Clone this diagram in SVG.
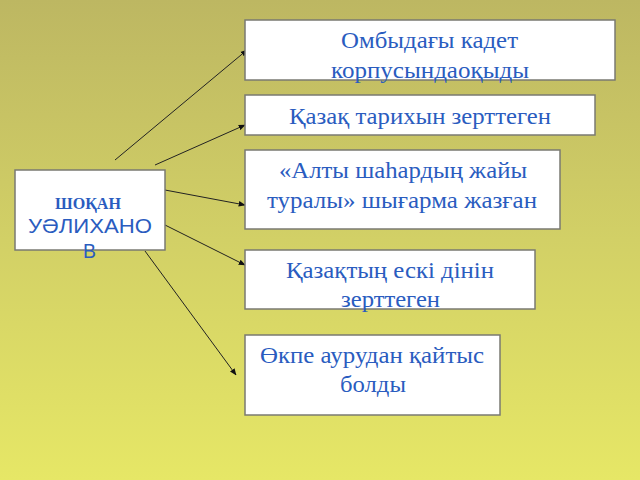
<svg xmlns="http://www.w3.org/2000/svg" width="640" height="480" viewBox="0 0 640 480">
<defs>
<linearGradient id="bg" x1="0" y1="0" x2="0" y2="1">
<stop offset="0" stop-color="#bdb762"/>
<stop offset="0.5" stop-color="#d2d066"/>
<stop offset="1" stop-color="#e6e766"/>
</linearGradient>
<marker id="ah" viewBox="0 0 10 10" refX="9" refY="5" markerWidth="7" markerHeight="7" markerUnits="userSpaceOnUse" orient="auto">
<path d="M0,1 L10,5 L0,9 z" fill="#111"/>
</marker>
<style>
.box{fill:#ffffff;stroke:#7a7a72;stroke-width:1.5}
.t{font-family:"Liberation Serif","Times New Roman",serif;font-size:23px;fill:#2a5cbf;text-anchor:start}
.hs{font-family:"Liberation Serif","Times New Roman",serif;font-size:17px;font-weight:bold;fill:#2a5cbf}
.hn{font-family:"Liberation Sans",Arial,sans-serif;font-size:21px;fill:#2a5cbf}
.c{stroke:#222;stroke-width:1;fill:none;marker-end:url(#ah)}
</style>
</defs>
<rect x="0" y="0" width="640" height="480" fill="url(#bg)"/>
<g id="connectors">
<line class="c" x1="115" y1="160" x2="247" y2="50"/>
<line class="c" x1="155" y1="165" x2="245" y2="125"/>
<line class="c" x1="165" y1="190" x2="245" y2="205"/>
<line class="c" x1="165" y1="225" x2="245" y2="265"/>
<line class="c" x1="145" y1="251" x2="236" y2="375"/>
</g>
<g id="node-shoqan">
<rect class="box" x="15" y="170" width="150" height="80"/>
<text class="hs" x="55" y="209" textLength="66" lengthAdjust="spacingAndGlyphs">ШОҚАН</text>
<text class="hn" x="28" y="233" textLength="124" lengthAdjust="spacingAndGlyphs">УӘЛИХАНО</text>
<text class="hn" x="83" y="258" textLength="13" lengthAdjust="spacingAndGlyphs">В</text>
</g>
<g id="node-1">
<rect class="box" x="245" y="20" width="370" height="60"/>
<text class="t" x="341" y="48" textLength="177" lengthAdjust="spacingAndGlyphs">Омбыдағы кадет</text>
<text class="t" x="331" y="78" textLength="198" lengthAdjust="spacingAndGlyphs">корпусындаоқыды</text>
</g>
<g id="node-2">
<rect class="box" x="245" y="95" width="350" height="40"/>
<text class="t" x="289" y="124" textLength="262" lengthAdjust="spacingAndGlyphs">Қазақ тарихын зерттеген</text>
</g>
<g id="node-3">
<rect class="box" x="245" y="150" width="315" height="79"/>
<text class="t" x="279" y="178" textLength="248" lengthAdjust="spacingAndGlyphs">«Алты шаһардың жайы</text>
<text class="t" x="267" y="208" textLength="270" lengthAdjust="spacingAndGlyphs">туралы» шығарма жазған</text>
</g>
<g id="node-4">
<rect class="box" x="245" y="250" width="290" height="59"/>
<text class="t" x="286" y="278" textLength="208" lengthAdjust="spacingAndGlyphs">Қазақтың ескі дінін</text>
<text class="t" x="341" y="307" textLength="99" lengthAdjust="spacingAndGlyphs">зерттеген</text>
</g>
<g id="node-5">
<rect class="box" x="245" y="335" width="255" height="80"/>
<text class="t" x="260" y="363" textLength="224" lengthAdjust="spacingAndGlyphs">Өкпе аурудан қайтыс</text>
<text class="t" x="340" y="392" textLength="66" lengthAdjust="spacingAndGlyphs">болды</text>
</g>
</svg>
